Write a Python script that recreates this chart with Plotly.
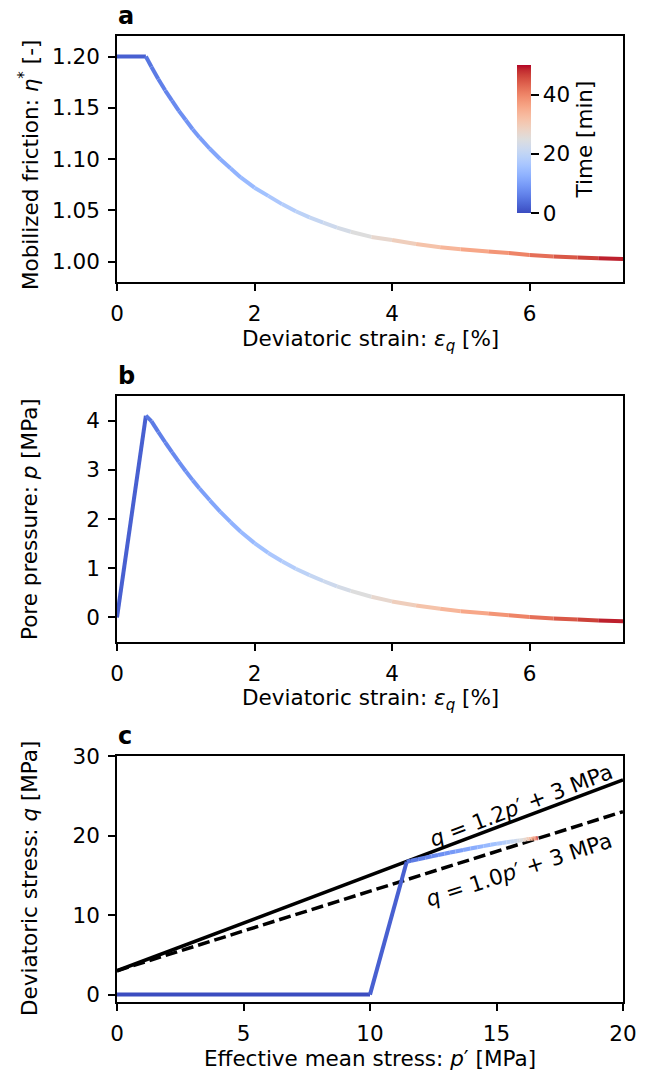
import plotly.graph_objects as go

# ---------------- data ----------------
strain = [0.0, 0.42, 0.50, 0.60, 0.70, 0.80, 0.90, 1.00, 1.10, 1.20, 1.35, 1.50, 1.65,
          1.80, 2.00, 2.20, 2.40, 2.60, 2.80, 3.00, 3.20, 3.40, 3.70, 4.00, 4.35, 4.70,
          5.00, 5.40, 5.70, 6.00, 6.35, 6.70, 7.00, 7.36]
eta = [1.200, 1.200, 1.190, 1.178, 1.167, 1.157, 1.147, 1.138, 1.129, 1.121, 1.110, 1.100,
       1.091, 1.082, 1.072, 1.064, 1.056, 1.049, 1.043, 1.038, 1.033, 1.029, 1.024, 1.021,
       1.017, 1.0140, 1.0120, 1.0098, 1.0082, 1.0064, 1.0050, 1.0040, 1.0032, 1.0025]
pore = [0.0, 4.10, 3.99, 3.77, 3.56, 3.36, 3.16, 2.97, 2.79, 2.62, 2.38, 2.15, 1.94, 1.74,
        1.51, 1.31, 1.14, 0.99, 0.86, 0.74, 0.63, 0.54, 0.42, 0.325, 0.24, 0.175, 0.125,
        0.08, 0.045, 0.01, -0.02, -0.045, -0.065, -0.08]
time_min = [0.0, 4.5, 5.0, 5.7, 6.3, 7.0, 7.6, 8.3, 9.0, 9.6, 10.6, 11.6, 12.6, 13.5, 14.9,
            16.2, 17.5, 18.8, 20.1, 21.4, 22.7, 24.0, 26.0, 28.0, 30.3, 32.6, 34.5, 37.1,
            39.1, 41.1, 43.4, 45.7, 47.6, 50.0]

# stress path (panel c)
p_eff = [0.0, 10.0, 11.45, 11.62, 11.90, 12.18, 12.44, 12.69, 12.94, 13.16, 13.38, 13.68,
         13.97, 14.24, 14.48, 14.77, 15.02, 15.22, 15.39, 15.54, 15.69, 15.82, 15.92, 16.06,
         16.18, 16.28, 16.35, 16.41, 16.46, 16.50, 16.54, 16.57, 16.60, 16.62, 16.64]
q_dev = [0.0, 0.0, 16.70, 16.83, 17.02, 17.21, 17.39, 17.56, 17.72, 17.86, 18.00, 18.19,
         18.37, 18.53, 18.67, 18.83, 18.98, 19.07, 19.15, 19.21, 19.28, 19.34, 19.38, 19.45,
         19.52, 19.56, 19.58, 19.61, 19.62, 19.64, 19.65, 19.65, 19.66, 19.67, 19.68]
time_c = [0.0, 0.0, 4.5, 5.0, 5.7, 6.3, 7.0, 7.6, 8.3, 9.0, 9.6, 10.6, 11.6, 12.6, 13.5,
          14.9, 16.2, 17.5, 18.8, 20.1, 21.4, 22.7, 24.0, 26.0, 28.0, 30.3, 32.6, 34.5,
          37.1, 39.1, 41.1, 43.4, 45.7, 47.6, 50.0]

env_p = [0, 20]
env_q_12 = [3, 27]
env_q_10 = [3, 23]

T_MAX = 50.0

# matplotlib "coolwarm"
CW = [(59, 76, 192), (68, 90, 204), (77, 104, 215), (87, 117, 225), (98, 130, 234),
      (108, 142, 241), (119, 154, 247), (130, 165, 251), (141, 176, 254), (152, 185, 255),
      (163, 194, 255), (174, 201, 253), (184, 208, 249), (194, 213, 244), (204, 217, 238),
      (213, 219, 230), (221, 221, 221), (229, 216, 209), (236, 211, 197), (241, 204, 184),
      (245, 196, 172), (247, 187, 160), (247, 177, 148), (247, 166, 135), (244, 154, 123),
      (241, 141, 111), (236, 127, 99), (229, 112, 88), (222, 96, 77), (213, 80, 66),
      (203, 62, 56), (192, 40, 47), (180, 4, 38)]
CW_SCALE = [[i / 32, "rgb(%d,%d,%d)" % c] for i, c in enumerate(CW)]


def cw_color(v):
    v = min(max(v, 0.0), 1.0) * 32
    i = min(int(v), 31)
    f = v - i
    a, b = CW[i], CW[i + 1]
    return "rgb(%d,%d,%d)" % tuple(round(a[k] + (b[k] - a[k]) * f) for k in range(3))


FONT = "DejaVu Sans"
FS = 21.5
LW = 4

# page offset (html body margin is removed by post_script below)
OFF = 0
W, H = 656, 1079
# plot area in screen pixels
PL, PR = 117, 623
A_T, A_B = 36, 282
B_T, B_B = 396, 642
C_T, C_B = 756, 1002

fig = go.Figure()


def add_gradient(xs, ys, ts, xa, ya):
    for i in range(len(xs) - 1):
        c = cw_color(0.5 * (ts[i] + ts[i + 1]) / T_MAX)
        fig.add_trace(go.Scatter(x=[xs[i], xs[i + 1]], y=[ys[i], ys[i + 1]], mode="lines",
                                 line=dict(color=c, width=LW), xaxis=xa, yaxis=ya,
                                 showlegend=False, hoverinfo="skip"))


add_gradient(strain, eta, time_min, "x", "y")
add_gradient(strain, pore, time_min, "x2", "y2")

fig.add_trace(go.Scatter(x=env_p, y=env_q_12, mode="lines", line=dict(color="black", width=3.5),
                         xaxis="x3", yaxis="y3", showlegend=False, hoverinfo="skip"))
fig.add_trace(go.Scatter(x=env_p, y=env_q_10, mode="lines",
                         line=dict(color="black", width=3.5, dash="12px,5px"),
                         xaxis="x3", yaxis="y3", showlegend=False, hoverinfo="skip"))
add_gradient(p_eff, q_dev, time_c, "x3", "y3")


def px_x(px):
    return (px - PL) / (PR - PL)


def px_y(py):
    return (C_B - py) / (C_B - A_T)


tickfont = dict(family=FONT, size=FS, color="black")

# colorbar carrier
cbar = dict(x=px_x(507), xanchor="left", xref="paper", yref="paper",
            y=px_y(139), yanchor="middle",
            thickness=14, thicknessmode="pixels", len=168, lenmode="pixels",
            outlinewidth=0, tickvals=[0, 20, 40], ticks="outside", ticklen=8, tickwidth=1.5,
            tickcolor="black", tickfont=tickfont,
            title=dict(text="Time [min]", side="right", font=tickfont))
marker = dict(size=1, opacity=0, color=time_min, colorscale=CW_SCALE, cmin=0, cmax=T_MAX,
              showscale=True, colorbar=cbar)
fig.add_trace(go.Scatter(x=strain, y=eta, mode="markers", xaxis="x", yaxis="y",
                         showlegend=False, hoverinfo="skip", marker=marker))

axis_common = dict(showline=True, linecolor="black", linewidth=1.6, mirror=True,
                   ticks="outside", ticklen=7, tickwidth=1.5, tickcolor="black",
                   showgrid=False, zeroline=False, tickfont=tickfont,
                   ticklabelstandoff=4)

dom_a = [px_y(A_B), px_y(A_T)]
dom_b = [px_y(B_B), px_y(B_T)]
dom_c = [px_y(C_B), px_y(C_T)]

fig.update_layout(
    width=W, height=H,
    margin=dict(l=PL - OFF, r=W - (PR - OFF), t=A_T - OFF, b=H - (C_B - OFF)),
    paper_bgcolor="white", plot_bgcolor="white",
    font=dict(family=FONT, size=FS, color="black"),
    xaxis=dict(domain=[0, 1], anchor="y", range=[0, 7.36], tickvals=[0, 2, 4, 6], **axis_common),
    yaxis=dict(domain=dom_a, anchor="x", range=[0.98, 1.22],
               tickvals=[1.00, 1.05, 1.10, 1.15, 1.20], tickformat=".2f", **axis_common),
    xaxis2=dict(domain=[0, 1], anchor="y2", range=[0, 7.36], tickvals=[0, 2, 4, 6], **axis_common),
    yaxis2=dict(domain=dom_b, anchor="x2", range=[-0.5, 4.5], tickvals=[0, 1, 2, 3, 4],
                **axis_common),
    xaxis3=dict(domain=[0, 1], anchor="y3", range=[0, 20], tickvals=[0, 5, 10, 15, 20],
                **axis_common),
    yaxis3=dict(domain=dom_c, anchor="x3", range=[-0.93, 30], tickvals=[0, 10, 20, 30],
                **axis_common),
)

ann = []
# panel letters
for letter, cy in (("a", 16), ("b", 376), ("c", 736)):
    ann.append(dict(text="<b>%s</b>" % letter, x=px_x(116), y=px_y(cy), xref="paper",
                    yref="paper", xanchor="left", yanchor="middle", showarrow=False,
                    font=dict(family=FONT, size=24, color="black")))
# x titles
for txt, cy in (("Deviatoric strain: <i>ε</i><sub><i>q</i></sub> [%]", 340),
                ("Deviatoric strain: <i>ε</i><sub><i>q</i></sub> [%]", 699),
                ("Effective mean stress: <i>p</i>′ [MPa]", 1058)):
    ann.append(dict(text=txt, x=0.5, y=px_y(cy), xref="paper", yref="paper",
                    xanchor="center", yanchor="middle", showarrow=False,
                    font=dict(family=FONT, size=FS, color="black")))
# y titles
for txt, cy in (("Mobilized friction: <i>η</i><sup>*</sup> [-]", 165),
                ("Pore pressure: <i>p</i> [MPa]", 519),
                ("Deviatoric stress: <i>q</i> [MPa]", 879)):
    ann.append(dict(text=txt, x=px_x(29), y=px_y(cy), xref="paper", yref="paper",
                    xanchor="center", yanchor="middle", textangle=-90, showarrow=False,
                    font=dict(family=FONT, size=FS, color="black")))
# envelope labels
ann.append(dict(text="<i>q</i> = 1.2<i>p</i>′ + 3 MPa", x=15.95, y=23.8, xref="x3", yref="y3",
                textangle=-21, showarrow=False, font=dict(family=FONT, size=FS, color="black")))
ann.append(dict(text="<i>q</i> = 1.0<i>p</i>′ + 3 MPa", x=15.9, y=15.7, xref="x3", yref="y3",
                textangle=-18, showarrow=False, font=dict(family=FONT, size=FS, color="black")))
fig.update_layout(annotations=ann)

fig.write_html("out.html", config={"displayModeBar": False},
               post_script="document.body.style.margin='0px';")
